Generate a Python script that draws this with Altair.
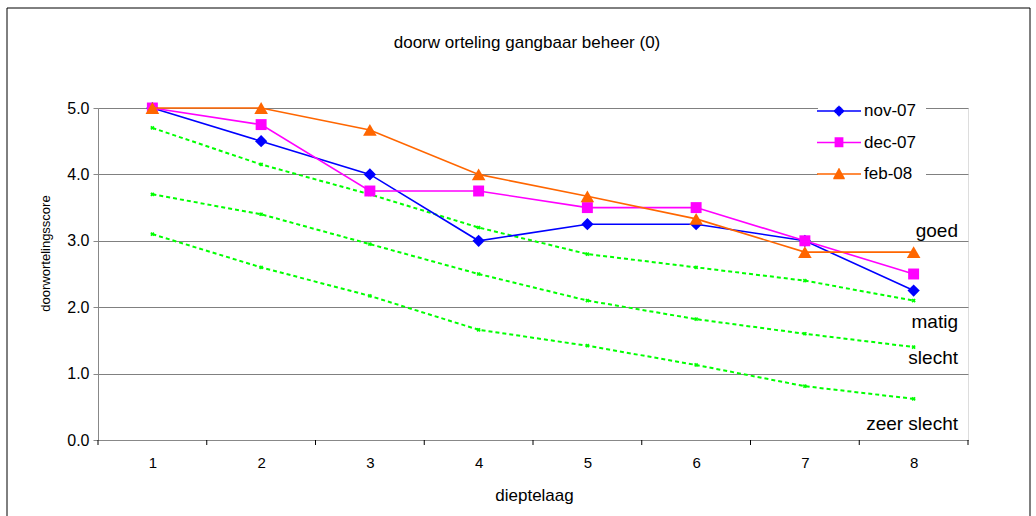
import altair as alt
import pandas as pd

# ---- data ----
layers = [1, 2, 3, 4, 5, 6, 7, 8]
series_names = ["nov-07", "dec-07", "feb-08"]
nov07 = [5.0, 4.5, 4.0, 3.0, 3.25, 3.25, 3.0, 2.25]
dec07 = [5.0, 4.75, 3.75, 3.75, 3.5, 3.5, 3.0, 2.5]
feb08 = [5.0, 5.0, 4.67, 4.0, 3.67, 3.33, 2.83, 2.83]
ref_names = ["grens goed", "grens matig", "grens slecht"]
ref_goed = [4.7, 4.15, 3.7, 3.2, 2.8, 2.6, 2.4, 2.1]
ref_matig = [3.7, 3.4, 2.95, 2.5, 2.1, 1.82, 1.6, 1.4]
ref_slecht = [3.1, 2.6, 2.17, 1.66, 1.42, 1.13, 0.81, 0.62]
class_labels = ["goed", "matig", "slecht", "zeer slecht"]
class_label_y = [3.15, 1.78, 1.23, 0.24]
y_ticks = [0, 1, 2, 3, 4, 5]
layer_edges = [0.5, 1.5, 2.5, 3.5, 4.5, 5.5, 6.5, 7.5, 8.5]

# ---- styles ----
FONT = "Liberation Sans"
series_colors = ["#0000FF", "#FF00FF", "#FF6600"]
series_shapes = ["diamond", "square", "triangle-up"]
series_sizes = [150, 120, 185]
GREEN = "#00FF00"
W, H = 870, 332


def scan_path(halfwidth_fn, y0, y1, step=0.07):
    """legend glyph: a horizontal line plus a marker drawn with scanlines"""
    parts = ["M-2.2,0H2.2"]
    y = y0
    while y <= y1 + 1e-9:
        hw = halfwidth_fn(y)
        if hw > 0:
            parts.append("M%.3f,%.3fH%.3f" % (-hw, y, hw))
        y += step
    return "".join(parts)


legend_paths = [
    scan_path(lambda y: 0.52 - abs(y), -0.52, 0.52),
    scan_path(lambda y: 0.44, -0.44, 0.44),
    scan_path(lambda y: 0.6 * (y + 0.6) / 1.1, -0.6, 0.5),
]

rows = []
for name, vals in zip(series_names, [nov07, dec07, feb08]):
    for l, v in zip(layers, vals):
        rows.append({"laag": l, "score": v, "series": name})
series_df = pd.DataFrame(rows)

rrows = []
for name, vals in zip(ref_names, [ref_goed, ref_matig, ref_slecht]):
    for l, v in zip(layers, vals):
        rrows.append({"laag": l, "score": v, "ref": name})
ref_df = pd.DataFrame(rrows)

label_df = pd.DataFrame({"label": class_labels, "score": class_label_y})
edge_df = pd.DataFrame({"laag": layer_edges})

x_scale = alt.Scale(domain=[0.5, 8.5], nice=False, zero=False)
y_scale = alt.Scale(domain=[0, 5], nice=False)

x_enc = alt.X(
    "laag:Q",
    scale=x_scale,
    axis=alt.Axis(
        values=layers, format="d", ticks=False, tickSize=0, grid=False,
        title="dieptelaag", labelPadding=15, labelFontSize=15,
        titleFontSize=17, titleFontWeight="normal", titleY=55, titleX=436,
        titleBaseline="middle", titleAlign="center",
    ),
)
y_enc = alt.Y(
    "score:Q",
    scale=y_scale,
    axis=alt.Axis(
        values=y_ticks, format=".1f", grid=True, gridColor="#808080",
        gridWidth=1.2, tickSize=5, labelPadding=4, labelFontSize=16,
        title="doorwortelingsscore", titleFontSize=13, titleFontWeight="normal",
        titleX=-53, titleY=145, titleAngle=270, titleBaseline="middle",
        titleAlign="center",
    ),
)

color_scale = alt.Scale(domain=series_names, range=series_colors)

frame = alt.Chart(pd.DataFrame({"a": [0]})).mark_rect(
    fillOpacity=0, stroke="black", strokeWidth=1
).encode(x=alt.value(-91), x2=alt.value(932), y=alt.value(-100), y2=alt.value(415))

ref_lines = alt.Chart(ref_df).mark_line(
    color=GREEN, strokeWidth=2, strokeDash=[4, 3]
).encode(x=x_enc, y=y_enc, detail="ref:N")
ref_pts = alt.Chart(ref_df).mark_point(
    shape="cross", angle=45, size=18, filled=True, color=GREEN, opacity=1
).encode(x="laag:Q", y="score:Q")

series_layers = []
for name, col, shp, sz in zip(series_names, series_colors, series_shapes, series_sizes):
    sub = alt.Chart(series_df).transform_filter(alt.datum.series == name)
    series_layers.append(
        sub.mark_line(strokeWidth=1.6, color=col).encode(x="laag:Q", y="score:Q")
    )
    series_layers.append(
        sub.mark_point(filled=True, opacity=1, shape=shp, size=sz, color=col)
        .encode(x="laag:Q", y="score:Q")
    )

legend_layer = alt.Chart(series_df).transform_filter("false").mark_point(
    filled=False, strokeWidth=1.6, opacity=1
).encode(
    x="laag:Q", y="score:Q",
    color=alt.Color("series:N", scale=color_scale, title=None,
                    legend=alt.Legend(
                        orient="none", legendX=720, legendY=-18, padding=10,
                        fillColor="white", symbolSize=400, symbolStrokeWidth=1.6,
                        symbolOpacity=1, labelFontSize=17, labelFont=FONT,
                        labelOffset=14, rowPadding=12.5, labelColor="black",
                    )),
    shape=alt.Shape("series:N", scale=alt.Scale(domain=series_names, range=legend_paths),
                    title=None),
)

edge_ticks = alt.Chart(edge_df).mark_rule(color="black", strokeWidth=1).encode(
    x="laag:Q", y=alt.value(H), y2=alt.value(H + 5)
)

labels = alt.Chart(label_df).mark_text(
    align="right", baseline="middle", fontSize=19, font=FONT, color="black"
).encode(x=alt.value(W - 10), y="score:Q", text="label:N")

chart = alt.layer(
    frame, ref_lines, ref_pts, *series_layers, legend_layer, edge_ticks, labels
).properties(
    width=W, height=H,
    autosize=alt.AutoSizeParams(type="none"),
    padding={"left": 98, "top": 108, "right": 68, "bottom": 76},
    title=alt.TitleParams(
        "doorw orteling gangbaar beheer (0)", fontSize=17, font=FONT,
        fontWeight="normal", anchor="middle", frame="group", offset=0, dy=44,
        dx=-6, color="black",
    ),
).configure_view(stroke="#808080", strokeWidth=1.2).configure_axis(
    labelFont=FONT, titleFont=FONT, labelColor="black", titleColor="black",
    domainColor="black", tickColor="black", titleFontWeight="normal",
    domainWidth=1.2,
).configure(background="white")

chart.save("out.html", embed_options={"renderer": "svg", "actions": False})
